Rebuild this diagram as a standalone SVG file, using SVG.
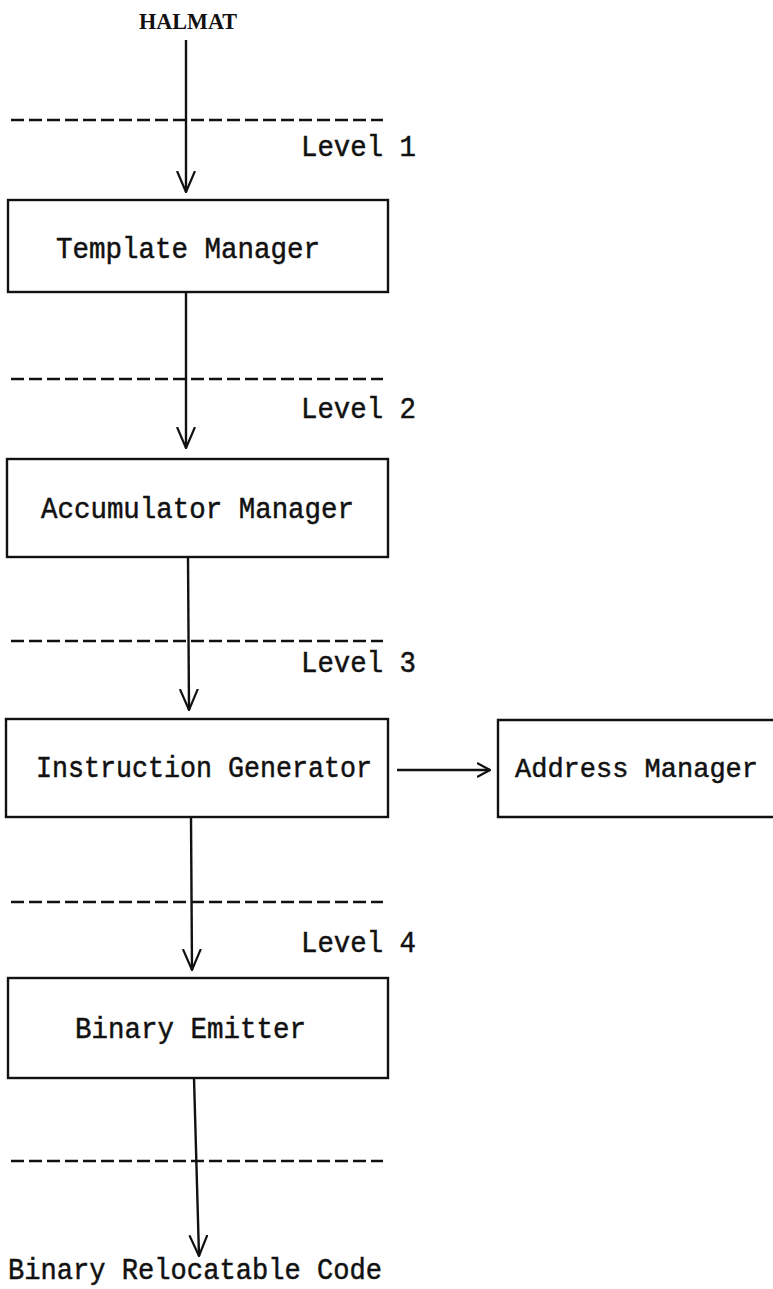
<svg xmlns="http://www.w3.org/2000/svg" width="773" height="1289" viewBox="0 0 773 1289">
<style>
.box{fill:none;stroke:#111;stroke-width:2.4}
.t{font-family:"Liberation Mono","Courier New",monospace;font-size:30px;fill:#111;stroke:#111;stroke-width:0.5}
.h{font-family:"Liberation Serif","Times New Roman",serif;font-size:24px;font-weight:bold;fill:#111}
.dash{stroke:#111;stroke-width:2.6;stroke-dasharray:13 5;fill:none}
.ln{stroke:#111;stroke-width:2.4;fill:none}
</style>
<defs>
<marker id="av" viewBox="0 0 22 20" refX="21" refY="10" markerWidth="22" markerHeight="20" markerUnits="userSpaceOnUse" orient="auto">
<path d="M0,1 L21,10 L0,19" fill="none" stroke="#111" stroke-width="2.2"/>
</marker>
<marker id="ah" viewBox="0 0 14 16" refX="13" refY="8" markerWidth="14" markerHeight="16" markerUnits="userSpaceOnUse" orient="auto">
<path d="M0,1 L13,8 L0,15" fill="none" stroke="#111" stroke-width="2.2"/>
</marker>
</defs>
<rect width="773" height="1289" fill="#fff"/>
<g id="levels">
<line class="dash" x1="11" y1="120" x2="383" y2="120"/>
<line class="dash" x1="11" y1="379" x2="383" y2="379"/>
<line class="dash" x1="11" y1="641" x2="383" y2="641"/>
<line class="dash" x1="11" y1="902" x2="383" y2="902"/>
<line class="dash" x1="11" y1="1161" x2="383" y2="1161"/>
<text class="t" x="301" y="156" textLength="115" lengthAdjust="spacingAndGlyphs">Level 1</text>
<text class="t" x="301" y="418" textLength="115" lengthAdjust="spacingAndGlyphs">Level 2</text>
<text class="t" x="301" y="672" textLength="115" lengthAdjust="spacingAndGlyphs">Level 3</text>
<text class="t" x="301" y="952" textLength="115" lengthAdjust="spacingAndGlyphs">Level 4</text>
</g>
<g id="halmat"><text class="h" x="139" y="29" textLength="98" lengthAdjust="spacingAndGlyphs">HALMAT</text></g>
<g id="template-manager">
<rect class="box" x="8" y="200" width="380" height="92"/>
<text class="t" x="56" y="258" textLength="264" lengthAdjust="spacingAndGlyphs">Template Manager</text>
</g>
<g id="accumulator-manager">
<rect class="box" x="7" y="459" width="381" height="98"/>
<text class="t" x="41" y="518" textLength="313" lengthAdjust="spacingAndGlyphs">Accumulator Manager</text>
</g>
<g id="instruction-generator">
<rect class="box" x="6" y="719" width="382" height="98"/>
<text class="t" x="36" y="777" textLength="336" lengthAdjust="spacingAndGlyphs">Instruction Generator</text>
</g>
<g id="address-manager">
<path class="box" d="M773,720 H498 V817 H773"/>
<text class="t" x="515" y="777" style="font-size:28px" textLength="243" lengthAdjust="spacingAndGlyphs">Address Manager</text>
</g>
<g id="binary-emitter">
<rect class="box" x="8" y="978" width="380" height="100"/>
<text class="t" x="75" y="1038" textLength="231" lengthAdjust="spacingAndGlyphs">Binary Emitter</text>
</g>
<g id="output"><text class="t" x="8" y="1279" textLength="374" lengthAdjust="spacingAndGlyphs">Binary Relocatable Code</text></g>
<g id="connectors">
<line class="ln" x1="186" y1="40" x2="186" y2="192" marker-end="url(#av)"/>
<line class="ln" x1="186" y1="292" x2="186" y2="448" marker-end="url(#av)"/>
<line class="ln" x1="188" y1="557" x2="189" y2="710" marker-end="url(#av)"/>
<line class="ln" x1="191" y1="817" x2="192" y2="970" marker-end="url(#av)"/>
<line class="ln" x1="194" y1="1078" x2="199" y2="1256" marker-end="url(#av)"/>
<line class="ln" x1="397" y1="770" x2="490" y2="770" marker-end="url(#ah)"/>
</g>
</svg>
